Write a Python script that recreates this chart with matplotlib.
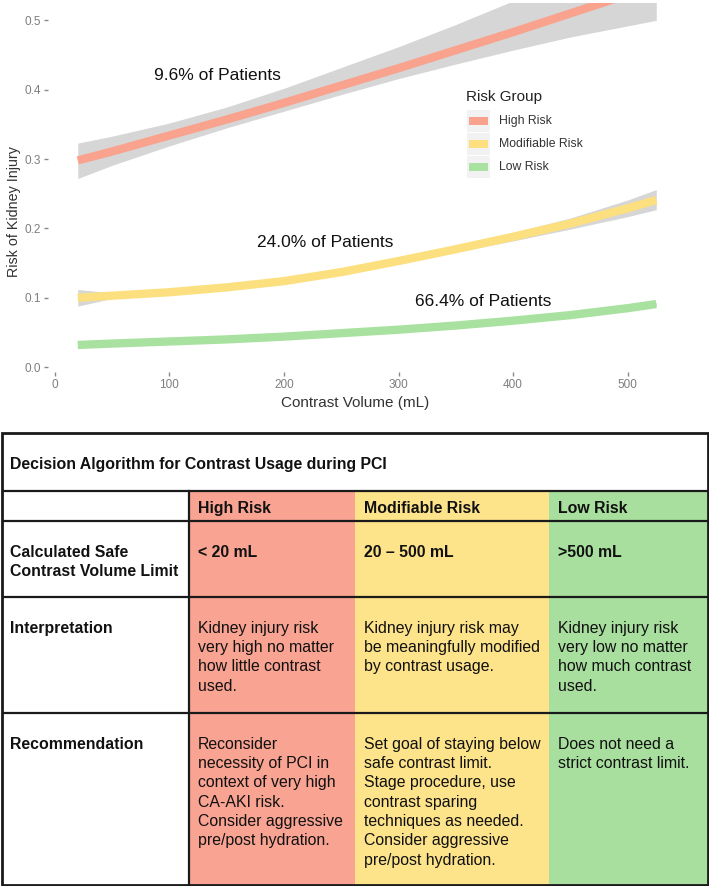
import matplotlib
matplotlib.use("Agg")
import matplotlib.pyplot as plt
from matplotlib.patches import Rectangle

plt.rcParams['font.family'] = ['Liberation Sans', 'DejaVu Sans']

# contrast volume (mL)
volume = [20, 50, 100, 150, 200, 250, 300, 350, 400, 450, 500, 525]

high_mid = [0.298, 0.311, 0.334, 0.357, 0.381, 0.406, 0.431, 0.457, 0.483, 0.510, 0.537, 0.551]
high_lo = [0.272, 0.291, 0.319, 0.345, 0.369, 0.393, 0.416, 0.437, 0.457, 0.476, 0.492, 0.500]
high_hi = [0.323, 0.333, 0.352, 0.375, 0.402, 0.432, 0.462, 0.494, 0.528, 0.563, 0.600, 0.620]

mod_mid = [0.100, 0.103, 0.108, 0.115, 0.124, 0.137, 0.153, 0.170, 0.188, 0.207, 0.229, 0.241]
mod_lo = [0.088, 0.099, 0.106, 0.113, 0.122, 0.135, 0.150, 0.166, 0.182, 0.199, 0.217, 0.227]
mod_hi = [0.112, 0.107, 0.110, 0.117, 0.126, 0.139, 0.156, 0.174, 0.194, 0.215, 0.241, 0.256]

low_mid = [0.032, 0.034, 0.037, 0.040, 0.044, 0.049, 0.054, 0.060, 0.067, 0.075, 0.085, 0.091]
low_lo = [0.031, 0.033, 0.036, 0.039, 0.043, 0.048, 0.053, 0.059, 0.066, 0.073, 0.083, 0.089]
low_hi = [0.033, 0.035, 0.038, 0.041, 0.045, 0.050, 0.055, 0.061, 0.068, 0.077, 0.087, 0.093]

groups = ['High Risk', 'Modifiable Risk', 'Low Risk']
colors = ['#F9A38F', '#FCE07F', '#A9E2A0']
cell_colors = ['#F9A392', '#FDE38A', '#A8DF9E']

annot_text = ['9.6% of Patients', '24.0% of Patients', '66.4% of Patients']
annot_x = [142, 236, 374]
annot_y = [0.420, 0.179, 0.094]

yticks = [0.0, 0.1, 0.2, 0.3, 0.4, 0.5]
xticks = [0, 100, 200, 300, 400, 500]

# table content
table_title = 'Decision Algorithm for Contrast Usage during PCI'
row_labels = ['Calculated Safe\nContrast Volume Limit', 'Interpretation', 'Recommendation']
safe_limit = ['< 20 mL', '20 \u2013 500 mL', '>500 mL']
interpretation = [
    'Kidney injury risk\nvery high no matter\nhow little contrast\nused.',
    'Kidney injury risk may\nbe meaningfully modified\nby contrast usage.',
    'Kidney injury risk\nvery low no matter\nhow much contrast\nused.',
]
recommendation = [
    'Reconsider\nnecessity of PCI in\ncontext of very high\nCA-AKI risk.\nConsider aggressive\npre/post hydration.',
    'Set goal of staying below\nsafe contrast limit.\nStage procedure, use\ncontrast sparing\ntechniques as needed.\nConsider aggressive\npre/post hydration.',
    'Does not need a\nstrict contrast limit.',
]

W, H = 709, 886
fig = plt.figure(figsize=(W / 100, H / 100), dpi=100)

# ---- chart ----
ax = fig.add_axes([48 / W, 1 - 372 / H, (662 - 48) / W, (372 - 3) / H])
series = [(high_mid, high_lo, high_hi), (mod_mid, mod_lo, mod_hi), (low_mid, low_lo, low_hi)]
for (mid, lo, hi), c in zip(series, colors):
    ax.fill_between(volume, lo, hi, color='#D6D6D6', lw=0, zorder=1)
for (mid, lo, hi), c in zip(series, colors):
    ax.plot(volume, mid, color=c, lw=6, solid_capstyle='butt', zorder=2)

for t, x, y in zip(annot_text, annot_x, annot_y):
    ax.text(x, y, t, fontsize=12.5, ha='center', va='center', color='#111111')

ax.set_xlim(-6, 530)
ax.set_ylim(-0.007, 0.525)
ax.set_xticks(xticks)
ax.set_yticks(yticks)
ax.set_yticklabels(['%.1f' % v for v in yticks])
ax.tick_params(colors='#8A8A8A', labelcolor='#7F7F7F', labelsize=8.5, length=3, width=1, pad=2)
for s in ax.spines.values():
    s.set_visible(False)
ax.set_xlabel('Contrast Volume (mL)', fontsize=11, color='#333333', labelpad=4)
ax.set_ylabel('Risk of Kidney Injury', fontsize=10.3, color='#333333')
ax.yaxis.set_label_coords((21 - 48) / 614, 1 - (212 - 3) / 369)

# legend drawn ggplot-style in axes fraction
lx0 = (466 - 48) / 614
ax.text(lx0, 1 - (97 - 3) / 369, 'Risk Group', transform=ax.transAxes, fontsize=11,
        color='#222222', va='center', ha='left')
for i, (g, c) in enumerate(zip(groups, colors)):
    yc = 1 - (121 + 23 * i - 3) / 369
    ax.add_patch(Rectangle((lx0 + 1 / 614, yc - 11 / 369), 23 / 614, 22 / 369,
                           transform=ax.transAxes, color='#F2F2F2', lw=0, zorder=3))
    ax.add_patch(Rectangle((lx0 + 3 / 614, yc - 4 / 369), 19 / 614, 8 / 369,
                           transform=ax.transAxes, color=c, lw=0, zorder=4))
    ax.text(lx0 + 33 / 614, yc, g, transform=ax.transAxes, fontsize=8.8,
            color='#333333', va='center', ha='left')

# ---- table ----
tax = fig.add_axes([0, 0, 1, 1], zorder=-1)
tax.set_xlim(0, W)
tax.set_ylim(H, 0)
tax.axis('off')

col_x = [1.5, 189, 355, 549, 707.5]
row_y = [433, 491, 521, 597, 713, 884.5]

for i, c in enumerate(cell_colors):
    tax.add_patch(Rectangle((col_x[i + 1], row_y[1]), col_x[i + 2] - col_x[i + 1],
                            row_y[-1] - row_y[1], color=c, lw=0))

lw_in = 1.6
for y in row_y[1:-1]:
    tax.plot([col_x[0], col_x[-1]], [y, y], color='#1A1A1A', lw=lw_in, solid_capstyle='butt')
tax.plot([col_x[1], col_x[1]], [row_y[1], row_y[-1]], color='#1A1A1A', lw=lw_in)
tax.add_patch(Rectangle((col_x[0], row_y[0]), col_x[-1] - col_x[0], row_y[-1] - row_y[0],
                        fill=False, ec='#1A1A1A', lw=2.0))

fs = 11.4
lead = 19.3
base_off = 5.8


def cell_text(x, y0, text, bold=False):
    for k, line in enumerate(text.split('\n')):
        tax.text(x, y0 + k * lead + base_off, line, fontsize=fs, va='baseline', ha='left',
                 color='#111111', fontweight='bold' if bold else 'normal')


cell_text(10, 463, table_title, bold=True)
text_x = [198, 364, 558]
for x, g in zip(text_x, groups):
    cell_text(x, 507, g, bold=True)

row_start = [551, 627, 743]
for lab, y0 in zip(row_labels, row_start):
    cell_text(10, y0, lab, bold=True)
for x, t in zip(text_x, safe_limit):
    cell_text(x, row_start[0], t, bold=True)
for x, t in zip(text_x, interpretation):
    cell_text(x, row_start[1], t)
for x, t in zip(text_x, recommendation):
    cell_text(x, row_start[2], t)

fig.savefig('out.png', dpi=100)
